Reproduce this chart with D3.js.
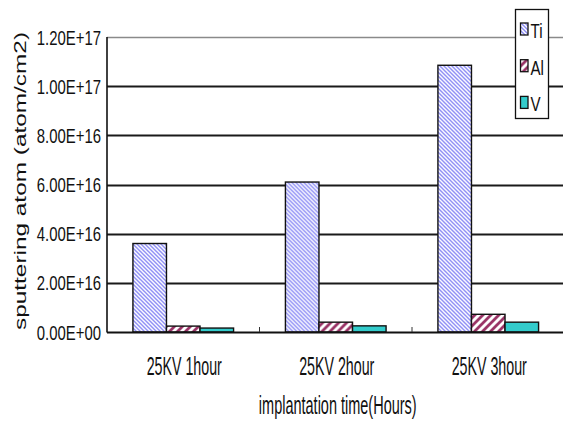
<!DOCTYPE html>
<html>
<head>
<meta charset="utf-8">
<script src="https://cdn.jsdelivr.net/npm/d3@7/dist/d3.min.js"></script>
<style>
  html, body { margin: 0; padding: 0; background: #fff; }
  svg { display: block; }
  text { font-family: "Liberation Sans", Arial, sans-serif; fill: #111; }
</style>
</head>
<body>
<svg id="chart" width="563" height="421"></svg>
<script>
// Sputtered atoms per implantation run
const categories = ["25KV 1hour", "25KV 2hour", "25KV 3hour"];
const seriesNames = ["Ti", "Al", "V"];
const tiValues = [3.6e16, 6.1e16, 1.085e17];
const alValues = [2.4e15, 4.0e15, 7.2e15];
const vValues = [1.6e15, 2.5e15, 4.0e15];
const yTicks = [0, 2e16, 4e16, 6e16, 8e16, 1e17, 1.2e17];
const yTickLabels = ["0.00E+00", "2.00E+16", "4.00E+16", "6.00E+16", "8.00E+16", "1.00E+17", "1.20E+17"];
const yTitle = "sputtering atom  (atom/cm2)";
const xTitle = "implantation time(Hours)";

const seriesValues = { Ti: tiValues, Al: alValues, V: vValues };
const rows = categories.map((c, i) => ({
  category: c,
  values: seriesNames.map(s => ({ series: s, value: seriesValues[s][i] }))
}));

const svg = d3.select("#chart");
const plotLeft = 107, plotRight = 564.5, plotTop = 37, plotBottom = 332;

const x0 = d3.scaleBand().domain(categories).range([plotLeft, plotRight])
  .paddingInner(0.34).paddingOuter(0.17);
const x1 = d3.scaleBand().domain(seriesNames).range([0, x0.bandwidth()]);
const y = d3.scaleLinear().domain([0, 1.2e17]).range([plotBottom, plotTop]);

// Condensed lettering: text placed at (px, py) and narrowed horizontally
function placeNarrow(sel, px, py, factor) {
  sel.attr("x", 0).attr("y", 0)
    .attr("transform", (d, i) => `translate(${px(d, i)},${py(d, i)}) scale(${factor},1)`);
}

// Fill patterns
const defs = svg.append("defs");
const tiPat = defs.append("pattern").attr("id", "pTi")
  .attr("patternUnits", "userSpaceOnUse").attr("width", 4).attr("height", 4);
tiPat.append("rect").attr("width", 4).attr("height", 4).attr("fill", "#fff");
tiPat.append("path").attr("d", "M-1,-1 L5,5 M-1,3 L1,5 M3,-1 L5,1")
  .attr("stroke", "#8c8cf5").attr("stroke-width", 1.4);

const alPat = defs.append("pattern").attr("id", "pAl")
  .attr("patternUnits", "userSpaceOnUse").attr("width", 8).attr("height", 8);
alPat.append("rect").attr("width", 8).attr("height", 8).attr("fill", "#fff");
alPat.append("path").attr("d", "M-2,10 L10,-2 M-2,2 L2,-2 M6,10 L10,6")
  .attr("stroke", "#993366").attr("stroke-width", 2.8);

const fills = { Ti: "url(#pTi)", Al: "url(#pAl)", V: "#33cccc" };

// Gridlines
svg.append("g").selectAll("line").data(yTicks.slice(1)).join("line")
  .attr("x1", plotLeft).attr("x2", 563)
  .attr("y1", d => Math.round(y(d)) + 0.5).attr("y2", d => Math.round(y(d)) + 0.5)
  .attr("stroke", d => d === 1.2e17 ? "#8a8a8a" : "#1a1a1a")
  .attr("stroke-width", d => d === 1.2e17 ? 1.3 : 1.8);

// Bars
const groups = svg.append("g").selectAll("g").data(rows).join("g")
  .attr("transform", d => `translate(${x0(d.category)},0)`);
groups.selectAll("rect").data(d => d.values).join("rect")
  .attr("x", d => x1(d.series))
  .attr("y", d => y(d.value))
  .attr("width", x1.bandwidth())
  .attr("height", d => plotBottom - y(d.value))
  .attr("fill", d => fills[d.series])
  .attr("stroke", "#111").attr("stroke-width", 1.4);

// Axis lines
svg.append("line").attr("x1", plotLeft).attr("x2", plotLeft).attr("y1", plotTop).attr("y2", plotBottom + 0.5)
  .attr("stroke", "#111").attr("stroke-width", 1.6);
svg.append("line").attr("x1", plotLeft).attr("x2", 563).attr("y1", plotBottom + 0.5).attr("y2", plotBottom + 0.5)
  .attr("stroke", "#111").attr("stroke-width", 1.8);

// Category boundary ticks
const step = x0.step();
const boundaries = categories.slice(1).map(c => x0(c) - step * x0.paddingInner() / 2);
svg.append("g").selectAll("line").data(boundaries).join("line")
  .attr("x1", d => d).attr("x2", d => d)
  .attr("y1", plotBottom - 5).attr("y2", plotBottom)
  .attr("stroke", "#333").attr("stroke-width", 1);

// Y tick labels
svg.append("g").selectAll("text").data(yTicks).join("text")
  .attr("text-anchor", "end")
  .attr("font-size", 21)
  .text((d, i) => yTickLabels[i])
  .call(placeNarrow, () => 101, d => y(d) + 7.5, 0.71);

// X tick labels
svg.append("g").selectAll("text").data(categories).join("text")
  .attr("text-anchor", "middle")
  .attr("font-size", 25)
  .text(d => d)
  .call(placeNarrow, d => x0(d) + x0.bandwidth() / 2 + 1, () => 375, 0.57);

// Axis titles
svg.append("text").datum(xTitle)
  .attr("text-anchor", "middle").attr("font-size", 25)
  .text(d => d)
  .call(placeNarrow, () => x0(categories[1]) + x0.bandwidth() / 2 + 2, () => 414, 0.58);

svg.append("text")
  .attr("transform", "translate(26,181) rotate(-90)")
  .attr("text-anchor", "middle")
  .attr("font-size", 16)
  .attr("textLength", 298).attr("lengthAdjust", "spacingAndGlyphs")
  .text(yTitle);

// Legend
const legend = svg.append("g");
legend.append("rect").attr("x", 515.5).attr("y", 9.5).attr("width", 33).attr("height", 109)
  .attr("fill", "#fff").attr("stroke", "#111").attr("stroke-width", 1.3);
const legendItems = legend.selectAll("g").data(seriesNames).join("g")
  .attr("transform", (d, i) => `translate(520,${38 + i * 36.7})`);
legendItems.append("rect").attr("x", 0.5).attr("y", -15).attr("width", 7.5).attr("height", 12)
  .attr("fill", d => fills[d]).attr("stroke", "#111").attr("stroke-width", 1.3);
legendItems.append("text")
  .attr("font-size", 21)
  .text(d => d)
  .call(placeNarrow, () => 10.5, () => 0, 0.72);
</script>
</body>
</html>
